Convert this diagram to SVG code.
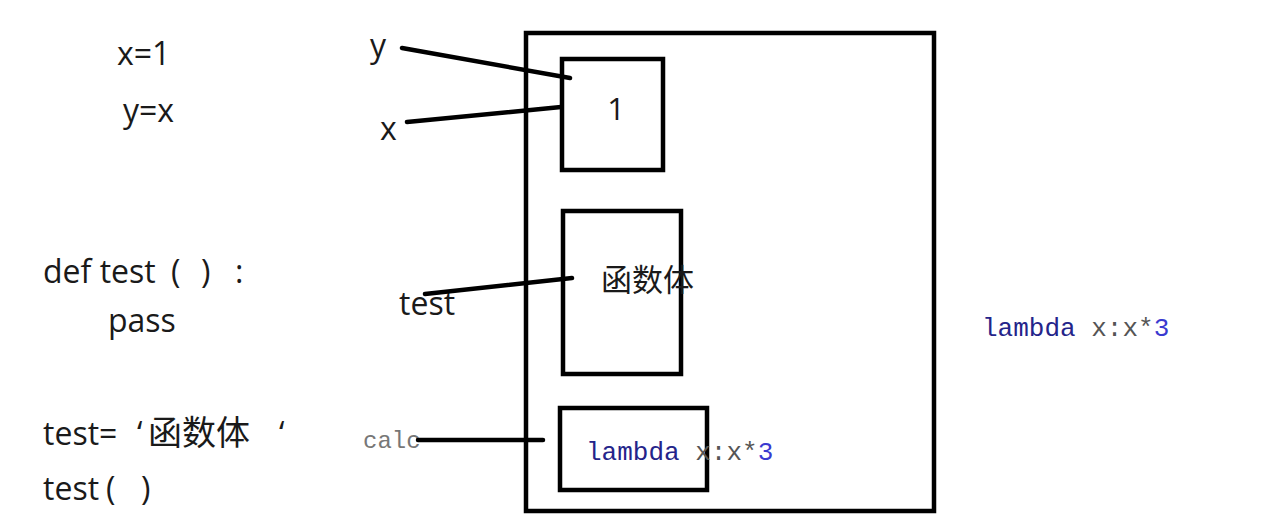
<svg xmlns="http://www.w3.org/2000/svg" width="1277" height="521" viewBox="0 0 1277 521">
<style>
.t{font-family:"Open Sans","Noto Sans CJK SC",sans-serif;font-size:32px;fill:#1a1a1a}
.cj{font-family:"Noto Sans CJK SC",sans-serif;fill:#1a1a1a}
.box{fill:none;stroke:#000;stroke-width:4.5}
.ln{stroke:#000;stroke-width:4.5;stroke-linecap:round;fill:none}
.code{font-family:"Liberation Mono",monospace;font-size:26px}
.kw{fill:#24248a}
.op{fill:#555}
.num{fill:#3a3ad0}
</style>
<rect width="1277" height="521" fill="#fff"/>
<g id="code-left">
<text class="t" x="117" y="65">x=1</text>
<text class="t" x="123" y="122">y=x</text>
<text class="t" x="43" y="283">def test</text>
<text class="t" x="171" y="283">(</text>
<text class="t" x="201" y="283">)</text>
<text class="t" x="235" y="283">:</text>
<text class="t" x="108" y="332">pass</text>
<text class="t" x="43" y="445">test=</text>
<text class="t" x="137" y="445">‘</text>
<text class="cj" x="148" y="445" style="font-size:34px">函数体</text>
<text class="t" x="279" y="445">‘</text>
<text class="t" x="43" y="500">test</text>
<text class="t" x="106" y="500">(</text>
<text class="t" x="141" y="500">)</text>
</g>
<g id="memory">
<rect class="box" x="526" y="33" width="408" height="478"/>
</g>
<g id="box-1">
<rect class="box" x="562" y="59" width="101" height="111"/>
<text class="t" x="616" y="120" text-anchor="middle" style="font-size:31px">1</text>
</g>
<g id="box-func">
<rect class="box" x="563" y="211" width="118" height="163"/>
<text class="cj" x="601" y="291" style="font-size:31px">函数体</text>
</g>
<g id="box-lambda">
<rect class="box" x="560" y="408" width="147" height="82"/>
<text class="code" x="586" y="460"><tspan class="kw">lambda</tspan><tspan class="op"> x:x*</tspan><tspan class="num">3</tspan></text>
</g>
<g id="labels">
<text class="t" x="370" y="57">y</text>
<text class="t" x="380" y="140">x</text>
<text class="t" x="399" y="315">test</text>
<text x="363" y="448" style="font-family:'Liberation Mono',monospace;font-size:24px;fill:#777">calc</text>
</g>
<g id="connectors">
<line class="ln" x1="402" y1="48" x2="570" y2="78"/>
<line class="ln" x1="407" y1="122" x2="561" y2="107"/>
<line class="ln" x1="425" y1="294" x2="572" y2="278"/>
<line class="ln" x1="418" y1="440" x2="543" y2="440"/>
</g>
<g id="lambda-right">
<text class="code" x="982" y="336"><tspan class="kw">lambda</tspan><tspan class="op"> x:x*</tspan><tspan class="num">3</tspan></text>
</g>
</svg>
